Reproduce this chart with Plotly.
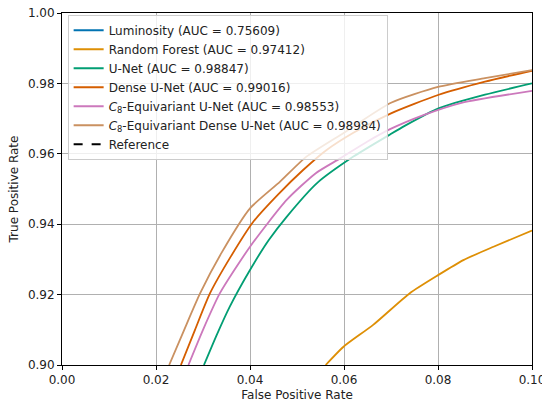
import plotly.graph_objects as go

# ---- data ----
lum_fpr = [0.0, 0.05, 0.1, 0.3, 0.6, 1.0]
lum_tpr = [0.0, 0.15, 0.28, 0.55, 0.8, 1.0]

rf_fpr = [0.0561, 0.0599, 0.0662, 0.0740, 0.0801, 0.0854, 0.0918, 0.1000]
rf_tpr = [0.900, 0.9052, 0.9114, 0.9204, 0.9256, 0.9298, 0.9336, 0.9382]

unet_fpr = [0.0302, 0.0330, 0.0357, 0.0400, 0.0440, 0.0478, 0.0542, 0.0620, 0.0698, 0.0730, 0.0801, 0.0900, 0.1000]
unet_tpr = [0.900, 0.9088, 0.9166, 0.9270, 0.9355, 0.9421, 0.9516, 0.9592, 0.9655, 0.9680, 0.9729, 0.9768, 0.9800]

dense_fpr = [0.0253, 0.0283, 0.0315, 0.0360, 0.0407, 0.0460, 0.0513, 0.0563, 0.0620, 0.0700, 0.0800, 0.0900, 0.1000]
dense_tpr = [0.900, 0.910, 0.9204, 0.931, 0.9407, 0.9485, 0.9554, 0.9611, 0.9660, 0.9715, 0.9767, 0.9805, 0.9836]

c8unet_fpr = [0.0269, 0.0300, 0.0336, 0.0400, 0.0478, 0.0540, 0.0592, 0.0650, 0.0698, 0.0769, 0.0850, 0.1000]
c8unet_tpr = [0.900, 0.910, 0.9204, 0.9336, 0.9469, 0.9545, 0.9587, 0.9635, 0.9670, 0.9710, 0.9745, 0.9779]

c8dense_fpr = [0.0228, 0.0260, 0.0294, 0.0340, 0.0400, 0.0464, 0.0520, 0.0600, 0.0700, 0.0800, 0.0900, 0.1000]
c8dense_tpr = [0.900, 0.910, 0.9204, 0.932, 0.9445, 0.9521, 0.9592, 0.9660, 0.9745, 0.9790, 0.9815, 0.9838]

ref_fpr = [0.0, 1.0]
ref_tpr = [0.0, 1.0]

names = [
    "Luminosity (AUC = 0.75609)",
    "Random Forest (AUC = 0.97412)",
    "U-Net (AUC = 0.98847)",
    "Dense U-Net (AUC = 0.99016)",
    "<i>C</i><sub>8</sub>-Equivariant U-Net (AUC = 0.98553)",
    "<i>C</i><sub>8</sub>-Equivariant Dense U-Net (AUC = 0.98984)",
]
colors = ["#0173b2", "#de8f05", "#029e73", "#d55e00", "#cc78bc", "#ca9161"]
series = [
    (lum_fpr, lum_tpr),
    (rf_fpr, rf_tpr),
    (unet_fpr, unet_tpr),
    (dense_fpr, dense_tpr),
    (c8unet_fpr, c8unet_tpr),
    (c8dense_fpr, c8dense_tpr),
]

fig = go.Figure()
for (x, y), n, c in zip(series, names, colors):
    fig.add_trace(go.Scatter(x=x, y=y, mode="lines", name=n,
                             line=dict(color=c, width=1.8, shape="spline", smoothing=0.6)))
fig.add_trace(go.Scatter(x=ref_fpr, y=ref_tpr, mode="lines", name="Reference",
                         line=dict(color="black", width=1.8, dash="dash")))

font = dict(family="DejaVu Sans", size=12, color="#222222")
fig.update_layout(
    width=542, height=405,
    margin=dict(l=62, r=10, t=13, b=40, autoexpand=False),
    paper_bgcolor="white", plot_bgcolor="white",
    font=font,
    showlegend=True,
    legend=dict(x=0.012, y=0.995, xanchor="left", yanchor="top",
                bgcolor="rgba(255,255,255,0.8)", bordercolor="#cccccc",
                borderwidth=1, font=font, tracegroupgap=0),
)
axis_common = dict(showline=True, linecolor="black", linewidth=1, mirror=True,
                   ticks="outside", ticklen=4, tickcolor="black",
                   showgrid=True, gridcolor="#b0b0b0", gridwidth=0.8,
                   zeroline=False, tickfont=font, automargin=False,
                   ticklabeloverflow="allow")
fig.update_xaxes(range=[0, 0.1], dtick=0.02, tickformat=".2f",
                 title=dict(text="False Positive Rate", font=font, standoff=4),
                 **axis_common)
fig.update_yaxes(range=[0.9, 1.0], dtick=0.02, tickformat=".2f",
                 title=dict(text="True Positive Rate", font=font, standoff=6),
                 **axis_common)

fig.write_html("out.html", config={"displayModeBar": False},
               post_script="document.body.style.margin='0';document.body.style.overflow='hidden';")
